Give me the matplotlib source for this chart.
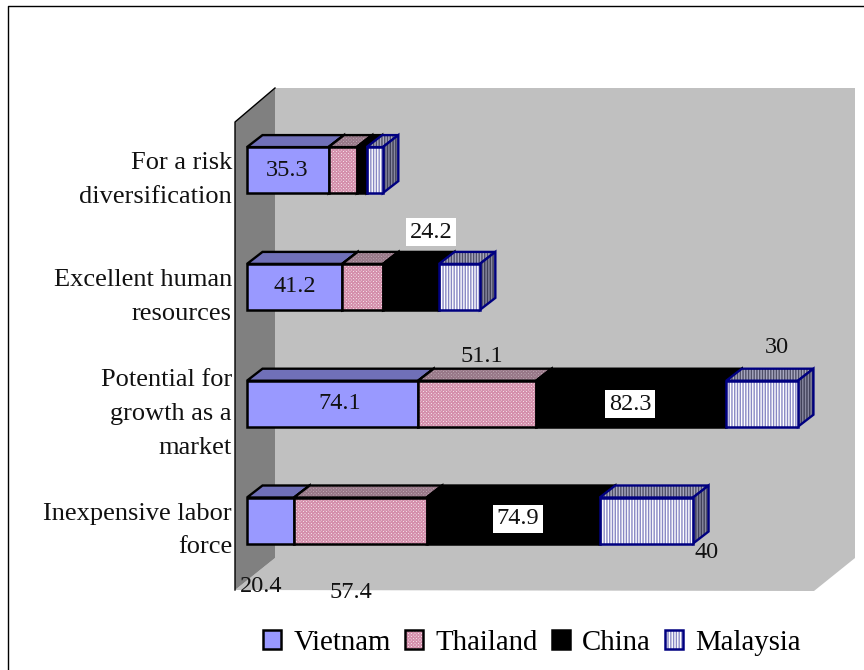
import matplotlib
matplotlib.use('Agg')
import matplotlib.pyplot as plt
from matplotlib.patches import Polygon, Patch
from matplotlib.legend_handler import HandlerTuple

plt.rcParams['font.family'] = ['Liberation Serif', 'DejaVu Serif']
plt.rcParams['hatch.linewidth'] = 1.0

categories = ['Inexpensive labor\nforce', 'Potential for\ngrowth as a\nmarket',
              'Excellent human\nresources', 'For a risk\ndiversification']
series = ['Vietnam', 'Thailand', 'China', 'Malaysia']
vietnam = [20.4, 74.1, 41.2, 35.3]
thailand = [57.4, 51.1, 17.7, 12.2]
china = [74.9, 82.3, 24.2, 4.3]
malaysia = [40.4, 31, 17.7, 7]
values = [vietnam, thailand, china, malaysia]

# which numbers the chart prints, and where (pixels)
shown = [('20.4', 261, 587, False), ('57.4', 351, 593, False), ('35.3', 287, 170, False),
         ('41.2', 295, 286, False), ('74.1', 340, 403, False), ('51.1', 482, 356, False),
         ('82.3', 630, 404, True), ('30', 777, 347, False), ('24.2', 431, 232, True),
         ('74.9', 518, 519, True), ('40', 707, 552, False)]

# front, hatch, top, top hatch, side, side hatch, edge
styles = {
    'Vietnam': ('#9999ff', None, '#7070b8', None, '#7070b8', None, 'black'),
    'Thailand': ('#ffffff', '#d490ac', '#c8b8c0', '#987888', '#8a6a7a', None, 'black'),
    'China': ('black', None, 'black', None, 'black', None, 'black'),
    'Malaysia': ('#ffffff', '#8888c4', '#a8a8c0', '#505068', '#8888a0', '#404058', '#000080'),
}
PATTERN = {'Thailand': 'xxxxxxxxxx', 'Malaysia': '||||||'}

W, H = 864, 670
PX_PER_UNIT = 2.31
PX_PER_ROW = 116.8
X0, Y0 = 247, 520.5
BAR_H = 46 / PX_PER_ROW
DX = 15.5 / PX_PER_UNIT
DY = 12 / PX_PER_ROW

fig = plt.figure(figsize=(W / 100, H / 100), dpi=100)
bg = fig.add_axes([0, 0, 1, 1])
bg.set_xlim(0, W)
bg.set_ylim(H, 0)
bg.axis('off')

# outer frame (left and top only), walls and floor
bg.plot([8, 8, W], [H, 6, 6], color='black', lw=1.0)
bg.add_patch(Polygon([(275, 88), (855, 88), (855, 558), (275, 558)], fc='#c0c0c0', ec='none'))
bg.add_patch(Polygon([(235, 590), (275, 558), (855, 558), (814, 591)], fc='#c0c0c0', ec='none'))
bg.add_patch(Polygon([(235, 122), (275, 88), (275, 558), (235, 590)], fc='#808080', ec='none'))
bg.plot([235, 235, 275], [590, 122, 88], color='black', lw=1.0)

ax = fig.add_axes([0, 0, 1, 1], zorder=2)
ax.patch.set_visible(False)
ax.axis('off')
ax.set_xlim(-X0 / PX_PER_UNIT, (W - X0) / PX_PER_UNIT)
ax.set_ylim((Y0 - H) / PX_PER_ROW, Y0 / PX_PER_ROW)

for row in range(len(categories)):
    left = 0
    for name, vals in zip(series, values):
        v = vals[row]
        front, fh, top, th, side, sh, edge = styles[name]
        b, t, r = row - BAR_H / 2, row + BAR_H / 2, left + v
        top_pts = [(left, t), (r, t), (r + DX, t + DY), (left + DX, t + DY)]
        side_pts = [(r, b), (r + DX, b + DY), (r + DX, t + DY), (r, t)]
        for pts, fc, hc in ((top_pts, top, th), (side_pts, side, sh)):
            ax.add_patch(Polygon(pts, fc=fc, ec=hc or fc, hatch=PATTERN[name] if hc else None, lw=0))
            ax.add_patch(Polygon(pts, fc='none', ec=edge, lw=1.7))
        ax.barh(row, v, height=BAR_H, left=left, color=front, edgecolor=fh or front,
                hatch=PATTERN[name] if fh else None, lw=0)
        ax.barh(row, v, height=BAR_H, left=left, color='none', edgecolor=edge, lw=1.8)
        left = r
    y_px = Y0 - row * PX_PER_ROW
    bg.text(232, y_px + 10, categories[row], ha='right', va='center', fontsize=19,
            linespacing=1.7, color='#111111')

for txt, x, y, boxed in shown:
    kw = {'bbox': dict(fc='white', ec='none', pad=2.5)} if boxed else {}
    ax.text((x - X0) / PX_PER_UNIT, (Y0 - y) / PX_PER_ROW, txt, ha='center', va='center',
            fontsize=17.5, color='#111111', zorder=5, **kw)

# swatch = hatched fill with an outline drawn over it
handles = []
for name in series:
    front, fh, top, th, side, sh, edge = styles[name]
    fill = Patch(fc=front, ec=fh or front, hatch=PATTERN[name] if fh else None, lw=0)
    line = Patch(fc='none', ec=edge, lw=1.8)
    handles.append((fill, line))
bg.legend(handles, series, loc='center', bbox_to_anchor=(532 / W, 1 - 643 / H), ncol=4,
          frameon=False, fontsize=20.8, handlelength=0.62, handleheight=0.62,
          handletextpad=0.42, columnspacing=0.5, borderpad=0, labelspacing=0,
          handler_map={tuple: HandlerTuple(ndivide=1, pad=0)})

fig.savefig('out.png', dpi=100)
